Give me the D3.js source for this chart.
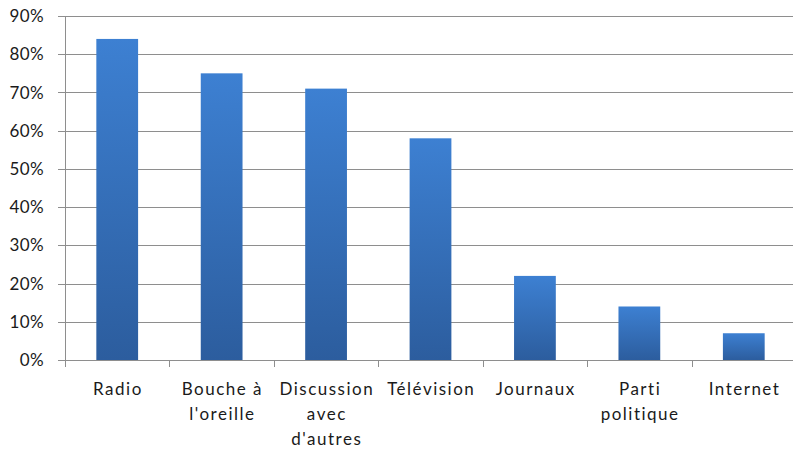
<!DOCTYPE html>
<html>
<head>
<meta charset="utf-8">
<script src="https://cdn.jsdelivr.net/npm/d3@7"></script>
<style>
  html, body { margin: 0; padding: 0; background: #fff; }
  svg { display: block; }
  text { font-family: Lato, "Open Sans", sans-serif; fill: #1a1a1a; }
</style>
</head>
<body>
<svg id="chart" width="793" height="450"></svg>
<script>
// Sources d'information citées (en %)
const categories = [
  ["Radio"],
  ["Bouche à", "l'oreille"],
  ["Discussion", "avec", "d'autres"],
  ["Télévision"],
  ["Journaux"],
  ["Parti", "politique"],
  ["Internet"]
];
const values = [84, 75, 71, 58, 22, 14, 7];
const yTicks = [0, 10, 20, 30, 40, 50, 60, 70, 80, 90];

const svg = d3.select("#chart");
const mLeft = 65, mRight = 796, mTop = 16, mBottom = 360;

const x = d3.scaleBand()
  .domain(d3.range(categories.length))
  .range([mLeft, mRight])
  .paddingInner(0.6)
  .paddingOuter(0.3);
const xb = d3.scaleBand().domain(d3.range(categories.length)).range([mLeft, mRight]);
const y = d3.scaleLinear().domain([0, 90]).range([mBottom, mTop]);

// Gradient des barres
const defs = svg.append("defs");
const grad = defs.append("linearGradient")
  .attr("id", "barGrad").attr("x1", 0).attr("y1", 0).attr("x2", 0).attr("y2", 1);
grad.append("stop").attr("offset", "0%").attr("stop-color", "#3d80d2");
grad.append("stop").attr("offset", "100%").attr("stop-color", "#2c5d9e");

// Lignes de quadrillage
svg.append("g")
  .selectAll("line")
  .data(yTicks)
  .join("line")
  .attr("x1", mLeft - 7)
  .attr("x2", mRight)
  .attr("y1", d => Math.round(y(d)) + 0.5)
  .attr("y2", d => Math.round(y(d)) + 0.5)
  .attr("stroke", "#8e8e8e")
  .attr("stroke-width", 1);

// Axe vertical
svg.append("line")
  .attr("x1", mLeft + 0.5).attr("x2", mLeft + 0.5)
  .attr("y1", y(90)).attr("y2", mBottom)
  .attr("stroke", "#8e8e8e");

// Étiquettes de l'axe Y
svg.append("g")
  .selectAll("text")
  .data(yTicks)
  .join("text")
  .attr("x", 44)
  .attr("y", d => y(d))
  .attr("dy", "0.36em")
  .attr("text-anchor", "end")
  .attr("font-size", 17)
  .attr("letter-spacing", 0.4)
  .text(d => d + "%");

// Graduations de l'axe X
svg.append("g")
  .selectAll("line")
  .data(d3.range(categories.length + 1))
  .join("line")
  .attr("x1", i => Math.round(mLeft + i * xb.step()) + 0.5)
  .attr("x2", i => Math.round(mLeft + i * xb.step()) + 0.5)
  .attr("y1", mBottom)
  .attr("y2", mBottom + 7)
  .attr("stroke", "#8e8e8e");

// Barres
svg.append("g")
  .selectAll("rect")
  .data(values)
  .join("rect")
  .attr("x", (d, i) => x(i))
  .attr("width", x.bandwidth())
  .attr("y", d => y(d))
  .attr("height", d => mBottom - y(d))
  .attr("fill", "url(#barGrad)");

// Étiquettes des catégories
const lab = svg.append("g")
  .selectAll("text")
  .data(categories)
  .join("text")
  .attr("text-anchor", "middle")
  .attr("font-size", 17)
  .attr("letter-spacing", 1.5)
  .attr("x", (d, i) => xb(i) + xb.bandwidth() / 2 + 0.75)
  .attr("y", 395);
lab.selectAll("tspan")
  .data(d => d)
  .join("tspan")
  .attr("x", function() { return this.parentNode.getAttribute("x"); })
  .attr("dy", (d, j) => j === 0 ? 0 : 25)
  .text(d => d);
</script>
</body>
</html>
